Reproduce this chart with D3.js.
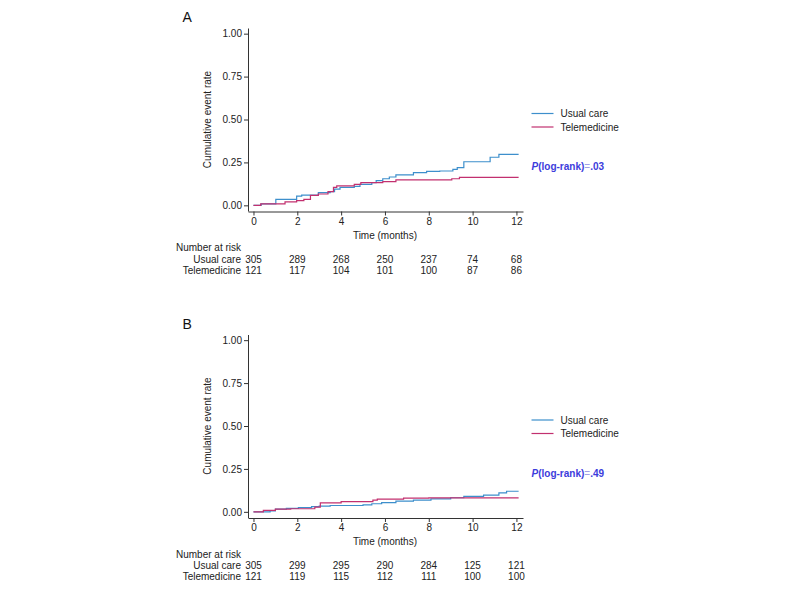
<!DOCTYPE html>
<html>
<head>
<meta charset="utf-8">
<script src="https://cdn.jsdelivr.net/npm/d3@7"></script>
<style>
    body { margin: 0; background: #fff; }
    svg { font-family: "Liberation Sans", Arial, sans-serif; }
    .tick text { font-size: 10px; fill: #222; }
    .tick line, .domain { stroke: #333; }
</style>
</head>
<body>
<svg id="chart" width="800" height="596"></svg>
<script>
// Dados (curvas em escada, tempo em meses).
const groups = ['Usual care', 'Telemedicine'];
const colors = ['#3d8fcc', '#c2306f'];

const aUsualTime = [0, 0.35, 1.02, 1.97, 2.2, 2.96, 3.5, 3.7, 3.95, 4.6, 4.86, 5.4, 5.6, 5.9, 6.2, 6.5, 7.3, 7.9, 8.5, 9.1, 9.3, 9.6, 10.8, 11.2, 12.1];
const aUsualRate = [0, 0.008, 0.035, 0.054, 0.06, 0.074, 0.08, 0.095, 0.105, 0.11, 0.122, 0.132, 0.144, 0.155, 0.165, 0.177, 0.19, 0.198, 0.2, 0.21, 0.22, 0.254, 0.28, 0.297, 0.297];
const aTeleTime = [0, 0.33, 1.44, 1.97, 2.3, 2.6, 2.96, 3.4, 3.65, 3.8, 4.6, 4.9, 5.9, 6.5, 9.05, 9.4, 12.1];
const aTeleRate = [0, 0.008, 0.02, 0.027, 0.035, 0.058, 0.066, 0.08, 0.105, 0.113, 0.122, 0.132, 0.138, 0.148, 0.155, 0.163, 0.163];

const bUsualTime = [0, 0.76, 1.0, 1.5, 2.05, 2.65, 3.0, 3.5, 5.0, 5.4, 5.85, 6.5, 7.3, 8.1, 9.0, 9.6, 10.5, 11.2, 11.55, 12.1];
const bUsualRate = [0, 0.006, 0.016, 0.02, 0.025, 0.03, 0.033, 0.037, 0.041, 0.047, 0.054, 0.062, 0.068, 0.076, 0.082, 0.09, 0.097, 0.11, 0.12, 0.12];
const bTeleTime = [0, 0.45, 1.0, 1.7, 2.8, 3.05, 4.0, 5.45, 5.65, 6.85, 8.0, 12.1];
const bTeleRate = [0, 0.008, 0.016, 0.018, 0.027, 0.052, 0.06, 0.068, 0.074, 0.08, 0.081, 0.081];

const xTicks = [0, 2, 4, 6, 8, 10, 12];
const yTicks = [0, 0.25, 0.5, 0.75, 1];

const aRiskUsual = [305, 289, 268, 250, 237, 74, 68];
const aRiskTele = [121, 117, 104, 101, 100, 87, 86];
const bRiskUsual = [305, 299, 295, 290, 284, 125, 121];
const bRiskTele = [121, 119, 115, 112, 111, 100, 100];

const panels = [
    { label: 'A', top: 0, pvalue: '.03',
      series: [[aUsualTime, aUsualRate], [aTeleTime, aTeleRate]],
      risk: [aRiskUsual, aRiskTele] },
    { label: 'B', top: 306.5, pvalue: '.49',
      series: [[bUsualTime, bUsualRate], [bTeleTime, bTeleRate]],
      risk: [bRiskUsual, bRiskTele] }
];

var svg = d3.select('#chart');

// Escalas comuns (o domínio estendido dá o comprimento dos eixos).
var x = d3.scaleLinear().domain([-0.25, 12.3]).range([248, 523]);
var y = d3.scaleLinear().domain([-0.033, 1.033]).range([211, 28]);

panels.forEach(function (p) {
    var g = svg.append('g').attr('transform', 'translate(0,' + p.top + ')');

    g.append('text')
        .attr('x', 182.5).attr('y', 22)
        .style('font-size', '14px').style('fill', '#111')
        .text(p.label);

    g.append('g')
        .attr('transform', 'translate(248,0)')
        .call(d3.axisLeft(y).tickValues(yTicks).tickSize(4).tickSizeOuter(0)
            .tickPadding(2).tickFormat(d3.format('.2f')));

    g.append('g')
        .attr('transform', 'translate(0,211.5)')
        .call(d3.axisBottom(x).tickValues(xTicks).tickSize(4).tickSizeOuter(0).tickPadding(2));

    g.append('text')
        .attr('transform', 'translate(211,' + y(0.5) + ') rotate(-90)')
        .attr('text-anchor', 'middle')
        .style('font-size', '10px').style('fill', '#222')
        .text('Cumulative event rate');

    g.append('text')
        .attr('x', x(6)).attr('y', 238.5)
        .attr('text-anchor', 'middle')
        .style('font-size', '10px').style('fill', '#222')
        .text('Time (months)');

    var line = d3.line()
        .curve(d3.curveStepAfter)
        .x(function (d) { return x(d[0]); })
        .y(function (d) { return y(d[1]); });

    p.series.forEach(function (s, i) {
        var pts = s[0].map(function (t, k) { return [t, s[1][k]]; });
        g.append('path')
            .datum(pts)
            .attr('d', line)
            .attr('fill', 'none')
            .attr('stroke', colors[i])
            .attr('stroke-width', 1.2);
    });

    // Legenda
    groups.forEach(function (name, i) {
        var ly = 113.5 + i * 13.5;
        g.append('line')
            .attr('x1', 531.5).attr('x2', 553.5)
            .attr('y1', ly).attr('y2', ly)
            .attr('stroke', colors[i]).attr('stroke-width', 1.2);
        g.append('text')
            .attr('x', 560.5).attr('y', ly + 3.5)
            .style('font-size', '10px').style('fill', '#222')
            .text(name);
    });

    var pt = g.append('text')
        .attr('x', 531.5).attr('y', 170)
        .style('font-size', '10px').style('fill', '#3c3cdc').style('font-weight', 'bold');
    pt.append('tspan').style('font-style', 'italic').text('P');
    pt.append('tspan').text('(log-rank)');
    pt.append('tspan').style('font-weight', 'normal').style('fill', '#a0a0e6').text('=');
    pt.append('tspan').text(p.pvalue);

    // Número em risco
    g.append('text')
        .attr('x', 176).attr('y', 251)
        .style('font-size', '10px').style('fill', '#222')
        .text('Number at risk');

    groups.forEach(function (name, i) {
        var ry = 262.8 + i * 11;
        g.append('text')
            .attr('x', 241).attr('y', ry)
            .attr('text-anchor', 'end')
            .style('font-size', '10px').style('fill', '#222')
            .text(name);
        g.selectAll(null)
            .data(p.risk[i])
            .enter().append('text')
            .attr('x', function (d, k) { return x(xTicks[k]); })
            .attr('y', ry)
            .attr('text-anchor', 'middle')
            .style('font-size', '10px').style('fill', '#222')
            .text(function (d) { return d; });
    });
});
</script>
</body>
</html>
